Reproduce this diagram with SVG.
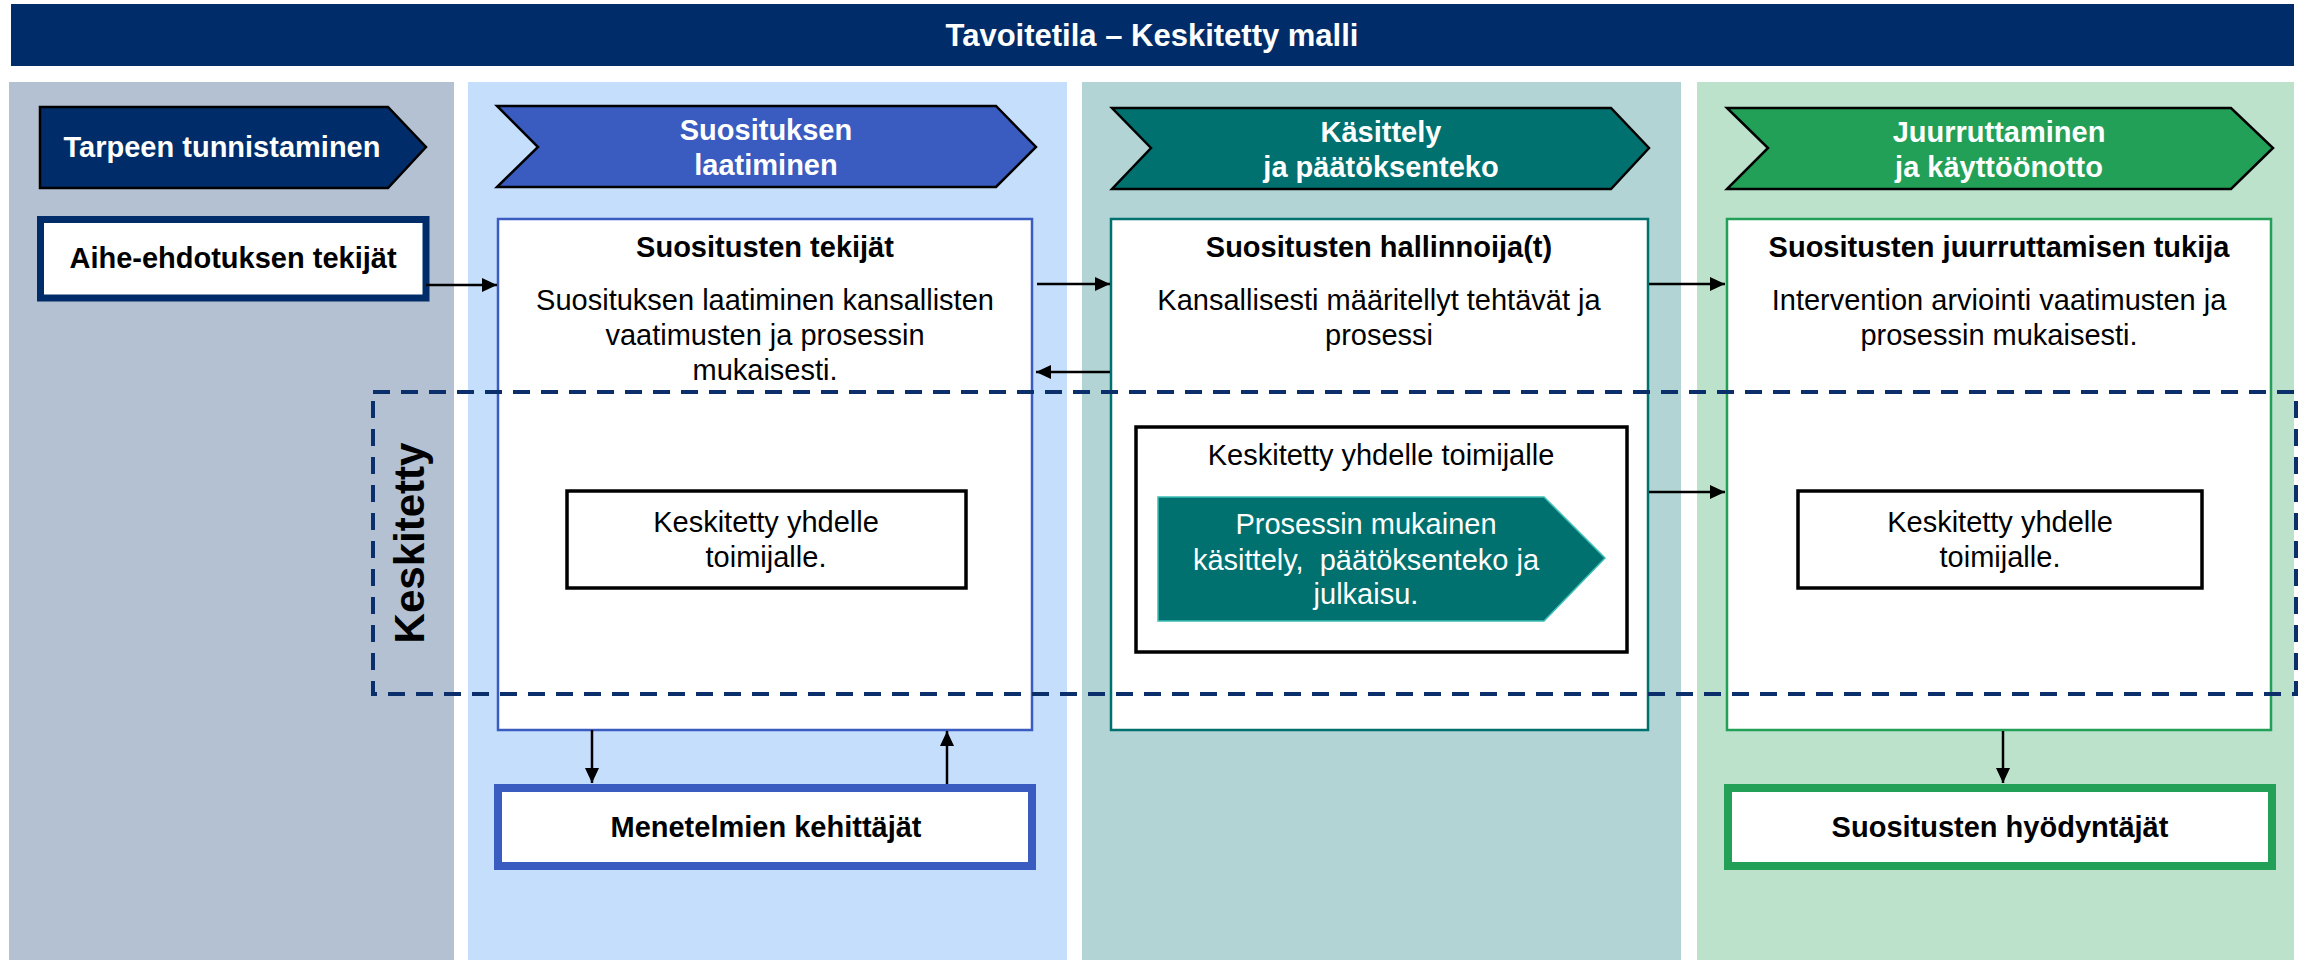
<svg xmlns="http://www.w3.org/2000/svg" width="2305" height="960" viewBox="0 0 2305 960">
<style>
text{font-family:"Liberation Sans",Arial,sans-serif;font-size:29px;fill:#000;text-anchor:middle}
.b{font-weight:bold}
.w{fill:#fff}
.conn{stroke:#000;stroke-width:2.5;fill:none;marker-end:url(#ah)}
.box{fill:#fff;stroke-width:2.5}
.inner{fill:#fff;stroke:#000;stroke-width:3.5}
.chev{stroke:#000;stroke-width:2.5}
</style>
<defs>
<marker id="ah" markerUnits="userSpaceOnUse" markerWidth="15" markerHeight="14" refX="15" refY="7" orient="auto">
<path d="M0,0 L15,7 L0,14 Z" fill="#000"/>
</marker>
</defs>
<rect width="2305" height="960" fill="#fff"/>
<g id="title">
<rect x="11" y="4" width="2283" height="62" fill="#002D69"/>
<text x="1152" y="46" class="b w" style="font-size:31px">Tavoitetila – Keskitetty malli</text>
</g>
<g id="columns">
<rect x="9" y="82" width="445" height="878" fill="#B4C1D2"/>
<rect x="468" y="82" width="599" height="878" fill="#C5DEFC"/>
<rect x="1082" y="82" width="599" height="878" fill="#B3D4D4"/>
<rect x="1697" y="82" width="597" height="878" fill="#BDE2CC"/>
</g>
<g id="phase1">
<path class="chev" d="M40,107 L388,107 L426,147 L388,188 L40,188 Z" fill="#002D69"/>
<text x="222" y="157" class="b w">Tarpeen tunnistaminen</text>
</g>
<g id="phase2">
<path class="chev" d="M497,106 L996,106 L1036,147 L996,187 L497,187 L538,147 Z" fill="#3A5BBF"/>
<text x="766" y="140" class="b w">Suosituksen</text>
<text x="766" y="175" class="b w">laatiminen</text>
</g>
<g id="phase3">
<path class="chev" d="M1112,108 L1611,108 L1649,148 L1611,189 L1112,189 L1151,148 Z" fill="#00716F"/>
<text x="1381" y="142" class="b w">Käsittely</text>
<text x="1381" y="177" class="b w">ja päätöksenteko</text>
</g>
<g id="phase4">
<path class="chev" d="M1727,108 L2231,108 L2273,148 L2231,189 L1727,189 L1768,148 Z" fill="#23A057"/>
<text x="1999" y="142" class="b w">Juurruttaminen</text>
<text x="1999" y="177" class="b w">ja käyttöönotto</text>
</g>
<g id="aihe">
<rect x="40.5" y="219.5" width="385.5" height="78.5" fill="#fff" stroke="#002D69" stroke-width="7"/>
<text x="233" y="268" class="b">Aihe-ehdotuksen tekijät</text>
</g>
<g id="tekijat">
<rect class="box" x="498" y="219" width="534" height="511" stroke="#3A5BBF"/>
<text x="765" y="257" class="b">Suositusten tekijät</text>
<text x="765" y="310">Suosituksen laatiminen kansallisten</text>
<text x="765" y="345">vaatimusten ja prosessin</text>
<text x="765" y="380">mukaisesti.</text>
</g>
<g id="tekijat-inner">
<rect class="inner" x="567" y="491" width="399" height="97"/>
<text x="766" y="532">Keskitetty yhdelle</text>
<text x="766" y="567">toimijalle.</text>
</g>
<g id="hallinnoija">
<rect class="box" x="1111" y="219" width="537" height="511" stroke="#00716F"/>
<text x="1379" y="257" class="b">Suositusten hallinnoija(t)</text>
<text x="1379" y="310">Kansallisesti määritellyt tehtävät ja</text>
<text x="1379" y="345">prosessi</text>
</g>
<g id="hallinnoija-inner">
<rect class="inner" x="1136" y="427" width="491" height="225" stroke-width="4"/>
<text x="1381" y="465">Keskitetty yhdelle toimijalle</text>
<path d="M1158,497 L1544,497 L1605,558 L1544,621 L1158,621 Z" fill="#00716F" stroke="#3DBDB5" stroke-width="1.5"/>
<text x="1366" y="534" class="w">Prosessin mukainen</text>
<text x="1366" y="570" class="w" style="white-space:pre">käsittely,  päätöksenteko ja</text>
<text x="1366" y="604" class="w">julkaisu.</text>
</g>
<g id="juurruttaminen">
<rect class="box" x="1727" y="219" width="544" height="511" stroke="#23A057"/>
<text x="1999" y="257" class="b">Suositusten juurruttamisen tukija</text>
<text x="1999" y="310">Intervention arviointi vaatimusten ja</text>
<text x="1999" y="345">prosessin mukaisesti.</text>
</g>
<g id="juurruttaminen-inner">
<rect class="inner" x="1798" y="491" width="404" height="97"/>
<text x="2000" y="532">Keskitetty yhdelle</text>
<text x="2000" y="567">toimijalle.</text>
</g>
<g id="menetelmat">
<rect x="498" y="788" width="534" height="78" fill="#fff" stroke="#3A5BBF" stroke-width="8"/>
<text x="766" y="837" class="b">Menetelmien kehittäjät</text>
</g>
<g id="hyodyntajat">
<rect x="1728" y="788" width="544" height="78" fill="#fff" stroke="#23A057" stroke-width="8"/>
<text x="2000" y="837" class="b">Suositusten hyödyntäjät</text>
</g>
<g id="keskitetty">
<rect x="373" y="392" width="1923" height="302" fill="none" stroke="#0A2F6B" stroke-width="4" stroke-dasharray="17 11"/>
<text transform="translate(424,543) rotate(-90)" x="0" y="0" class="b" style="font-size:42px">Keskitetty</text>
</g>
<g id="connectors">
<line class="conn" x1="426" y1="285" x2="497" y2="285"/>
<line class="conn" x1="1037" y1="284" x2="1110" y2="284"/>
<line class="conn" x1="1110" y1="372" x2="1036" y2="372"/>
<line class="conn" x1="1649" y1="284" x2="1725" y2="284"/>
<line class="conn" x1="1649" y1="492" x2="1725" y2="492"/>
<line class="conn" x1="592" y1="730" x2="592" y2="783"/>
<line class="conn" x1="947" y1="784" x2="947" y2="731"/>
<line class="conn" x1="2003" y1="731" x2="2003" y2="783"/>
</g>
</svg>
